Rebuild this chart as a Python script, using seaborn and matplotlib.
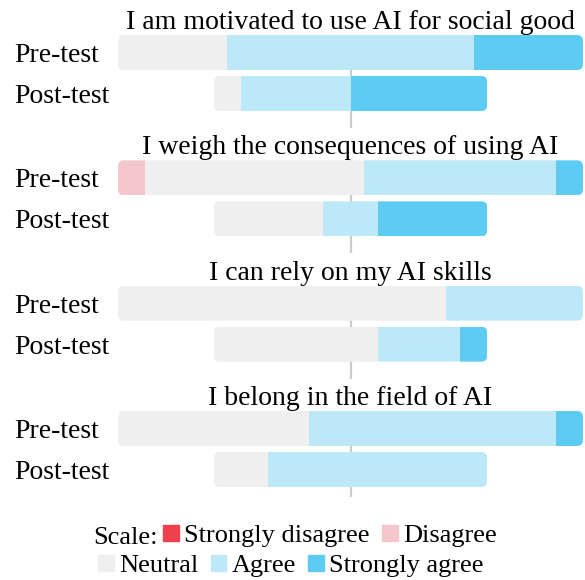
import numpy as np
import pandas as pd
import seaborn as sns
import matplotlib.pyplot as plt
from matplotlib.patches import FancyBboxPatch, Patch

# Likert categories and colours
categories = ["Strongly disagree", "Disagree", "Neutral", "Agree", "Strongly agree"]
colors = ["#ef414d", "#f4c8ca", "#efefef", "#bde8f8", "#5ecbf2"]

statements = [
    "I am motivated to use AI for social good",
    "I weigh the consequences of using AI",
    "I can rely on my AI skills",
    "I belong in the field of AI",
]
rows = ["Pre-test", "Post-test"]

# response counts per statement, in the order of categories
pre_counts = [
    [0, 0, 4, 9, 4],
    [0, 1, 8, 7, 1],
    [0, 0, 12, 5, 0],
    [0, 0, 7, 9, 1],
]
post_counts = [
    [0, 0, 1, 4, 5],
    [0, 0, 4, 2, 4],
    [0, 0, 6, 3, 1],
    [0, 0, 2, 8, 0],
]

sns.set_theme(style="white")
plt.rcParams["font.family"] = ["Liberation Serif", "DejaVu Serif"]
plt.rcParams["text.color"] = "black"
plt.rcParams["ytick.color"] = "black"
plt.rcParams["axes.titlecolor"] = "black"

W, H = 585, 580
fig = plt.figure(figsize=(W / 100, H / 100), dpi=100)
palette = sns.color_palette(colors)

bar_h = 35 / 41
x_left, x_right = 118, 583
xmax = max(sum(c) for c in pre_counts + post_counts) / 2

for i, stmt in enumerate(statements):
    top = 35 + 125.33 * i
    ext = 17 if i < len(statements) - 1 else 10  # centre line below post bar
    bottom = top + 76 + ext
    ax = fig.add_axes([x_left / W, 1 - bottom / H, (x_right - x_left) / W, (bottom - top) / H])
    ax.axvline(0, color="#cccccc", lw=1.6, zorder=0)

    for r, counts in enumerate([pre_counts[i], post_counts[i]]):
        counts = np.array(counts, dtype=float)
        total = counts.sum()
        lefts = -total / 2 + np.concatenate([[0], np.cumsum(counts)[:-1]])
        bars = ax.barh(np.full(len(counts), r), counts, left=lefts, height=bar_h,
                       color=palette, linewidth=0, zorder=2)
        # rounded outline of the whole row used as clip path
        rx = 6 / 27.35
        ry = 6 / 41
        clip = FancyBboxPatch((-total / 2, r - bar_h / 2), total, bar_h,
                              boxstyle=f"round,pad=0,rounding_size={rx}",
                              mutation_aspect=ry / rx, transform=ax.transData)
        for b in bars:
            b.set_clip_path(clip)

    ax.set_xlim(-xmax, xmax)
    ax.set_ylim(1 + bar_h / 2 + ext / 41, -bar_h / 2)
    ax.set_yticks([0, 1])
    ax.set_yticklabels(rows, fontsize=20)
    for lab in ax.get_yticklabels():
        lab.set_ha("left")
    ax.tick_params(axis="y", length=0, pad=75)
    ax.set_xticks([])
    ax.set_title(stmt, fontsize=20, pad=3.5)
    sns.despine(ax=ax, left=True, bottom=True)

leg_kw = dict(frameon=False, fontsize=19, handlelength=0.6, handleheight=0.6,
              handletextpad=0.2, columnspacing=0.45, borderpad=0, borderaxespad=0)

h1 = [Patch(color=palette[k], label=categories[k]) for k in [0, 1]]
fig.legend(handles=h1, ncol=2, loc="center", bbox_to_anchor=(330 / W, 1 - 536 / H), **leg_kw)
fig.text(158 / W, 1 - 536 / H, "Scale:", fontsize=19, va="center_baseline", ha="right")

h2 = [Patch(color=palette[k], label=categories[k]) for k in [2, 3, 4]]
fig.legend(handles=h2, ncol=3, loc="center", bbox_to_anchor=(291 / W, 1 - 566 / H), **leg_kw)

fig.savefig("out.png", dpi=100)
